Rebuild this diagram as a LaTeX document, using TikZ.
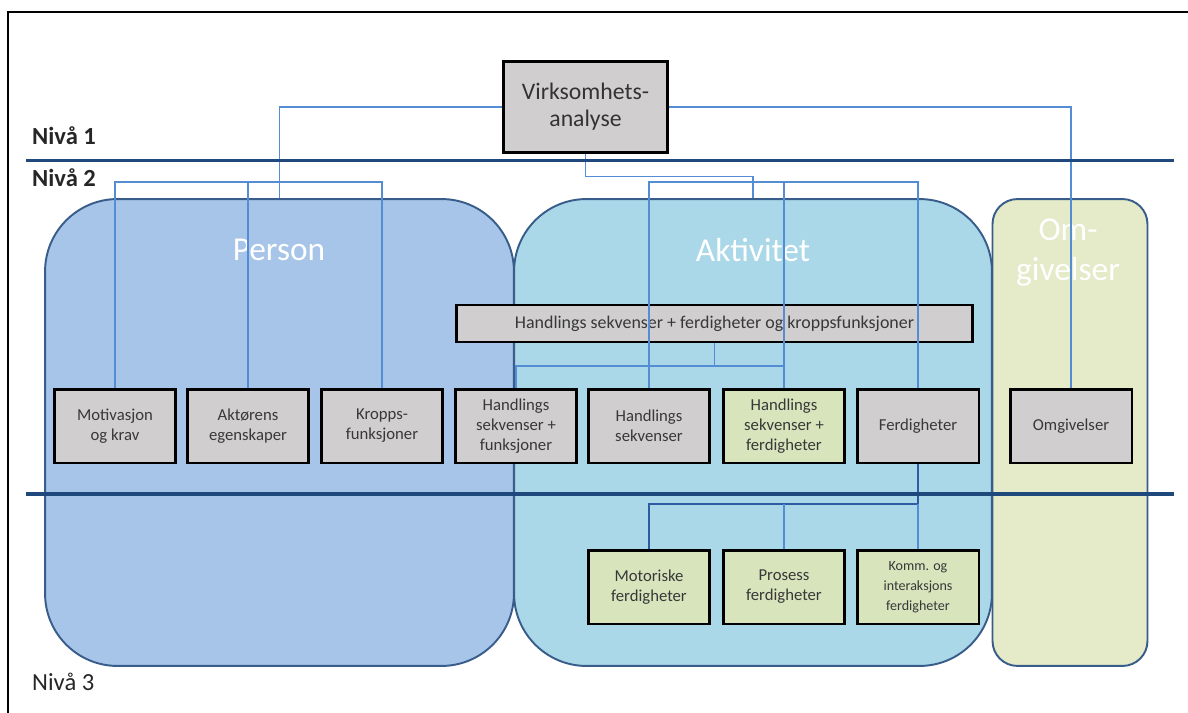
\documentclass[tikz,border=0pt]{standalone}
\usepackage{fontspec}
\setmainfont{Carlito}
\usepackage{tikz}
\definecolor{linjeblaa}{RGB}{84, 141, 212}
\definecolor{linjemork}{RGB}{46, 92, 160}
\definecolor{nivaablaa}{RGB}{31, 73, 125}
\definecolor{kantblaa}{RGB}{56, 93, 138}
\definecolor{personfyll}{RGB}{167, 196, 233}
\definecolor{aktivfyll}{RGB}{170, 216, 232}
\definecolor{omgivfyll}{RGB}{229, 235, 200}
\definecolor{graafyll}{RGB}{208, 206, 206}
\definecolor{groennfyll}{RGB}{215, 228, 188}
\definecolor{tekstgraa}{RGB}{56, 56, 56}

\begin{document}
\begin{tikzpicture}[x=0.02cm, y=-0.02cm,
    omraade/.style={draw=kantblaa, line width=1.1pt, inner sep=0pt,
      minimum height=9.34cm},
    boks/.style={draw=black, line width=1.7pt, inner sep=2pt, align=center,
      text=tekstgraa, minimum width=2.44cm, minimum height=1.48cm,
      font=\fontsize{9.5}{11.4}\selectfont},
    graaboks/.style={boks, fill=graafyll},
    groennboks/.style={boks, fill=groennfyll},
    tittel/.style={text=white, align=center,
      font=\fontsize{19}{22.8}\selectfont},
    nivaa/.style={anchor=west, text=black!85,
      font=\fontsize{14}{16}\selectfont},
    kobling/.style={draw=linjeblaa, line width=1.1pt},
    nivaalinje/.style={draw=nivaablaa, line width=2pt}]

\useasboundingbox (0,0) rectangle (1188,713);
\draw[line width=0.6pt] (8,713) -- (8,12) -- (1188,12);

%% ── AREAS: Person, Aktivitet, Omgivelser ─────────────────────────────────────
\node[omraade, fill=personfyll, minimum width=9.38cm, rounded corners=1.45cm]
  (person) at (279.5,432.5) {};
\node[omraade, fill=aktivfyll, minimum width=9.56cm, rounded corners=1.45cm]
  (aktivitet) at (753,432.5) {};
\node[omraade, fill=omgivfyll, minimum width=3.1cm, rounded corners=0.5cm]
  (omgiv) at (1070,432.5) {};

\node[tittel] (tperson) at (279,250) {Person};
\node[tittel] (taktiv) at (753,250) {Aktivitet};
\node[tittel] (tomgiv) at (1068,253) {Om-\\givelser};

%% ── LEVEL 1 ──────────────────────────────────────────────────────────────────
\node[graaboks, minimum width=3.3cm, minimum height=1.84cm, text=black!80,
      font=\fontsize{13.5}{15.4}\selectfont] (virk) at (585.5,107)
  {Virksomhets-\\analyse};

%% ── LEVEL 2 ──────────────────────────────────────────────────────────────────
\node[graaboks, minimum width=10.34cm, minimum height=0.74cm,
      font=\fontsize{10.2}{12}\selectfont] (hfk) at (714.5,323.5)
  {Handlings sekvenser + ferdigheter og kroppsfunksjoner};

\node[graaboks] (motiv)  at (115,426) {Motivasjon\\og krav};
\node[graaboks] (aktor)  at (248,426) {Akt\o rens\\egenskaper};
\node[graaboks] (kropp)  at (382,426) {Kropps-\\funksjoner};
\node[graaboks] (hsfunk) at (516,426) {Handlings\\sekvenser +\\funksjoner};
\node[graaboks] (hsek)   at (649,426) {Handlings\\sekvenser};
\node[groennboks] (hsferd) at (784,426) {Handlings\\sekvenser +\\ferdigheter};
\node[graaboks] (ferd)   at (918,426) {Ferdigheter};
\node[graaboks] (omgivb) at (1071,426) {Omgivelser};

%% ── LEVEL 3 ──────────────────────────────────────────────────────────────────
\node[groennboks] (motor)   at (649,587) {Motoriske\\ferdigheter};
\node[groennboks] (prosess) at (784,587) {Prosess\\ferdigheter};
\node[groennboks, font=\fontsize{8}{11.4}\selectfont] (komm) at (918,587)
  {Komm. og\\interaksjons\\ferdigheter};

%% ── CONNECTORS ───────────────────────────────────────────────────────────────
% from the top box to the three areas
\draw[kobling] (virk.west) -| (person.north);
\draw[kobling] (virk.east) -| (omgivb.north);
\draw[kobling] (virk.south) -- ++(0,22) -| (aktivitet.north);

% brackets above the areas
\coordinate (pbrak) at (248,182);
\draw[kobling] (motiv.north) |- (pbrak) -| (kropp.north);
\draw[kobling] (aktor.north) -- (aktor.north |- pbrak);

\coordinate (abrak) at (784,182);
\draw[kobling] (hsek.north) |- (abrak) -| (ferd.north);
\draw[kobling] (hsferd.north) -- (hsferd.north |- abrak);

% wide box down to its two parts
\coordinate (wbrak) at (714.5,366);
\draw[kobling] (hsfunk.north) |- (wbrak) -| (hsferd.north);
\draw[kobling] (hfk.south) -- (wbrak);

% Ferdigheter split into level 3
\coordinate (fbrak) at (784,504);
\draw[kobling, draw=linjemork, line width=1.6pt] (ferd.south) |- (fbrak) -| (motor.north);
\draw[kobling] (prosess.north) -- (prosess.north |- fbrak);
\draw[kobling] (komm.north) -- (komm.north |- fbrak);

%% ── LEVEL LINES AND LABELS ───────────────────────────────────────────────────
\coordinate (n1a) at (26,160.5);
\coordinate (n1b) at (1174,160.5);
\coordinate (n2a) at (26,494);
\coordinate (n2b) at (1174,494);
\draw[nivaalinje] (n1a) -- (n1b);
\draw[nivaalinje] (n2a) -- (n2b);

\node[nivaa, font=\fontsize{14}{16}\selectfont\bfseries] (niv1) at (26,136) {Niv\aa{} 1};
\node[nivaa, font=\fontsize{14}{16}\selectfont\bfseries] (niv2) at (26,178) {Niv\aa{} 2};
\node[nivaa] (niv3) at (26,682) {Niv\aa{} 3};

\end{tikzpicture}
\end{document}
